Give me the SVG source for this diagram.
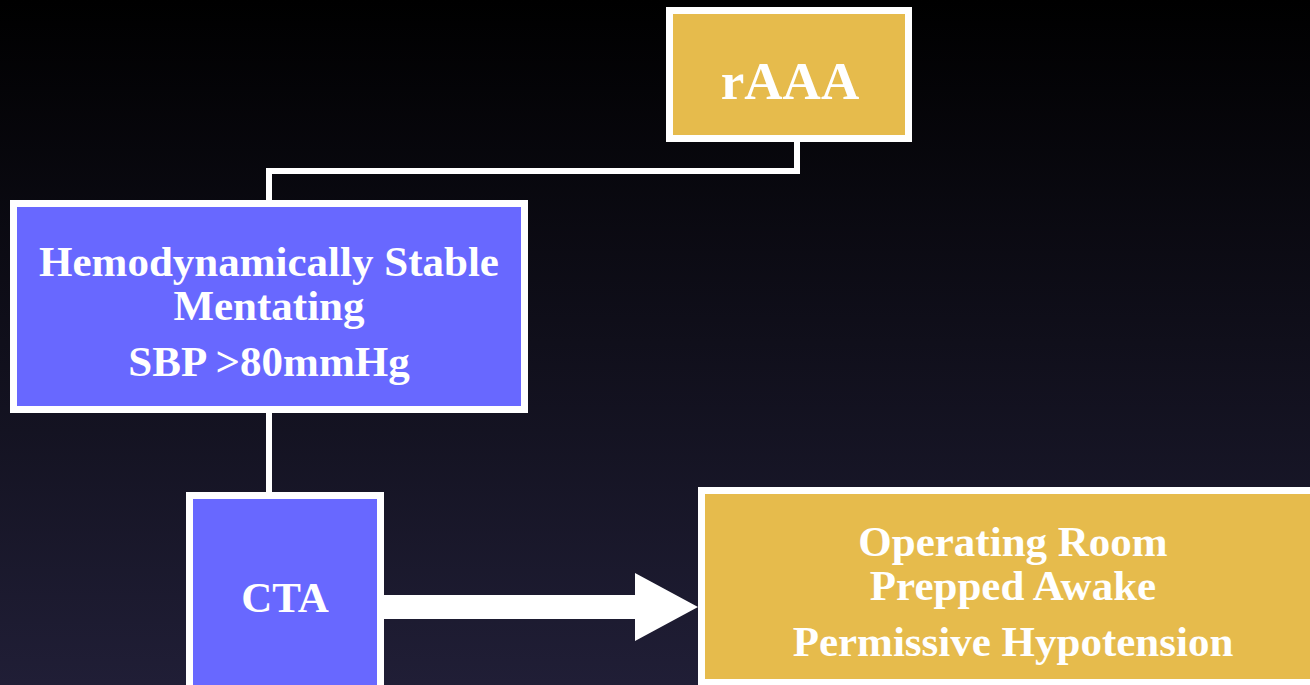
<svg xmlns="http://www.w3.org/2000/svg" width="1310" height="685" viewBox="0 0 1310 685">
  <defs>
    <linearGradient id="bg" x1="0" y1="0" x2="0" y2="1">
      <stop offset="0" stop-color="#000000"/>
      <stop offset="1" stop-color="#201e36"/>
    </linearGradient>
  </defs>
  <style>
    .box { stroke: #ffffff; stroke-width: 7; }
    .gold { fill: #e6bb4c; }
    .blue { fill: #6868ff; }
    .label { fill: #ffffff; font-family: "Liberation Serif", "Times New Roman", serif; font-weight: bold; text-anchor: middle; }
    .wire { fill: none; stroke: #ffffff; stroke-width: 6; }
  </style>

  <rect x="0" y="0" width="1310" height="685" fill="url(#bg)"/>

  <g id="connectors">
    <polyline class="wire" points="797,142 797,171 269,171 269,200"/>
    <line class="wire" x1="269" y1="413" x2="269" y2="492"/>
    <polygon fill="#ffffff" points="384,595 635,595 635,573 698,607 635,641 635,619 384,619"/>
  </g>

  <g id="raaa">
    <rect class="box gold" x="669.5" y="10.5" width="239" height="128"/>
    <text class="label" x="790" y="99" font-size="53">rAAA</text>
  </g>

  <g id="stable">
    <rect class="box blue" x="13.5" y="203.5" width="511" height="206"/>
    <text class="label" x="269" y="276" font-size="43">Hemodynamically Stable</text>
    <text class="label" x="269" y="320" font-size="43">Mentating</text>
    <text class="label" x="269" y="376" font-size="43">SBP &gt;80mmHg</text>
  </g>

  <g id="cta">
    <rect class="box blue" x="189.5" y="495.5" width="191" height="200"/>
    <text class="label" x="285" y="612" font-size="43">CTA</text>
  </g>

  <g id="operating-room">
    <!-- box runs off the right edge of the page -->
    <rect class="box gold" x="701.5" y="490.5" width="640" height="192"/>
    <text class="label" x="1013" y="556" font-size="43">Operating Room</text>
    <text class="label" x="1013" y="600" font-size="43">Prepped Awake</text>
    <text class="label" x="1013" y="656" font-size="43">Permissive Hypotension</text>
  </g>
</svg>
